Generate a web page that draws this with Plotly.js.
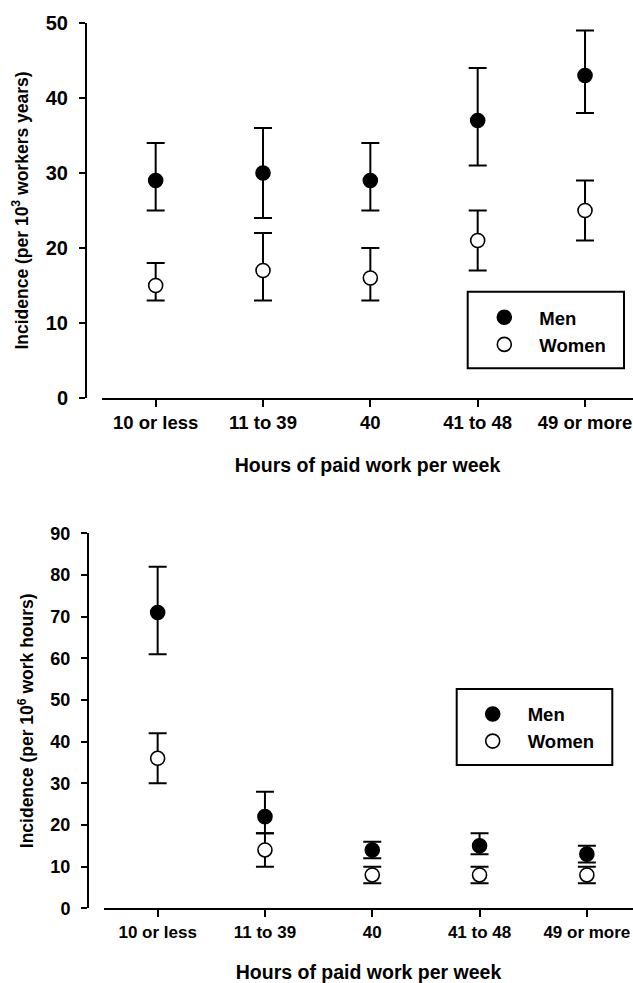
<!DOCTYPE html>
<html>
<head>
<meta charset="utf-8">
<script src="https://cdn.plot.ly/plotly-3.0.1.min.js"></script>
<style>html,body{margin:0;padding:0;background:#fff;}#chart{width:633px;height:983px;}</style>
</head>
<body>
<div id="chart"></div>
<script>
// Categories
const categories = ["10 or less", "11 to 39", "40", "41 to 48", "49 or more"];

// Top panel: incidence per 10^3 worker years
const topMen = [29, 30, 29, 37, 43];
const topMenUpper = [34, 36, 34, 44, 49];
const topMenLower = [25, 24, 25, 31, 38];
const topWomen = [15, 17, 16, 21, 25];
const topWomenUpper = [18, 22, 20, 25, 29];
const topWomenLower = [13, 13, 13, 17, 21];

// Bottom panel: incidence per 10^6 work hours
const botMen = [71, 22, 14, 15, 13];
const botMenUpper = [82, 28, 16, 18, 15];
const botMenLower = [61, 18, 12, 13, 11];
const botWomen = [36, 14, 8, 8, 8];
const botWomenUpper = [42, 18, 10, 10, 10];
const botWomenLower = [30, 10, 6, 6, 6];

const W = 633, H = 983;
const FONT = "Liberation Sans, Arial, Helvetica, sans-serif";

function errs(vals, up, lo) {
  return {
    type: "data",
    array: up.map((u, i) => u - vals[i]),
    arrayminus: vals.map((v, i) => v - lo[i]),
    color: "#000",
    thickness: 2,
    width: 9,
    visible: true
  };
}

function trace(name, vals, up, lo, filled, xa, ya, leg) {
  return {
    type: "scatter", mode: "markers", name: name,
    x: categories, y: vals,
    xaxis: xa, yaxis: ya, legend: leg, showlegend: true,
    cliponaxis: false,
    marker: {
      size: 14,
      color: filled ? "#000" : "#fff",
      line: {color: "#000", width: 1.6}
    },
    error_y: errs(vals, up, lo)
  };
}

const data = [
  trace("Men", topMen, topMenUpper, topMenLower, true, "x", "y", "legend"),
  trace("Women", topWomen, topWomenUpper, topWomenLower, false, "x", "y", "legend"),
  trace("Men", botMen, botMenUpper, botMenLower, true, "x2", "y2", "legend2"),
  trace("Women", botWomen, botWomenUpper, botWomenLower, false, "x2", "y2", "legend2")
];

function py(pix) { return (H - pix) / H; }
function px(pix) { return pix / W; }

const axCommon = {
  showline: true, linecolor: "#000", linewidth: 2,
  ticks: "outside", tickcolor: "#000", tickwidth: 2,
  showgrid: false, zeroline: false, fixedrange: true
};

const layout = {
  width: W, height: H,
  margin: {l: 0, r: 0, t: 0, b: 0},
  paper_bgcolor: "#fff", plot_bgcolor: "rgba(0,0,0,0)",
  font: {family: FONT, color: "#000", weight: "bold"},
  xaxis: Object.assign({}, axCommon, {
    type: "category", domain: [px(102), 1], anchor: "y",
    range: [-0.5, 4.447], ticklen: 7,
    tickfont: {family: FONT, size: 18.5, weight: "bold"},
    title: {text: "Hours of paid work per week", font: {family: FONT, size: 19.5, weight: "bold"}, standoff: 26}
  }),
  yaxis: Object.assign({}, axCommon, {
    domain: [py(398), py(23)], anchor: "free", position: px(86),
    range: [0, 50], dtick: 10, ticklen: 6, ticklabelstandoff: 7,
    tickfont: {family: FONT, size: 20, weight: "bold"},
    title: {text: "Incidence (per 10<sup>3</sup> workers years)", font: {family: FONT, size: 17.5, weight: "bold"}, standoff: 12}
  }),
  xaxis2: Object.assign({}, axCommon, {
    type: "category", domain: [px(104), 1], anchor: "y2",
    range: [-0.5, 4.43], ticklen: 7,
    tickfont: {family: FONT, size: 17, weight: "bold"},
    title: {text: "Hours of paid work per week", font: {family: FONT, size: 19.5, weight: "bold"}, standoff: 33}
  }),
  yaxis2: Object.assign({}, axCommon, {
    domain: [py(908.3), py(533.3)], anchor: "free", position: px(88),
    range: [0, 90], dtick: 10, ticklen: 6, ticklabelstandoff: 7,
    tickfont: {family: FONT, size: 18, weight: "bold"},
    title: {text: "Incidence (per 10<sup>6</sup> work hours)", font: {family: FONT, size: 17.5, weight: "bold"}, standoff: 11}
  }),
  legend: {
    x: px(469.3), y: py(298.8), xanchor: "left", yanchor: "top",
    bgcolor: "rgba(0,0,0,0)", borderwidth: 0, itemwidth: 60,
    font: {family: FONT, size: 18.5, weight: "bold"}
  },
  legend2: {
    x: px(457.7), y: py(695.5), xanchor: "left", yanchor: "top",
    bgcolor: "rgba(0,0,0,0)", borderwidth: 0, itemwidth: 60,
    font: {family: FONT, size: 18.5, weight: "bold"}
  },
  shapes: [
    {type: "rect", xref: "paper", yref: "paper", x0: px(467.7), x1: px(624), y0: py(368.3), y1: py(291.7), line: {color: "#000", width: 2}},
    {type: "rect", xref: "paper", yref: "paper", x0: px(456.7), x1: px(612.3), y0: py(765), y1: py(689), line: {color: "#000", width: 2}}
  ]
};

Plotly.newPlot("chart", data, layout, {staticPlot: true, displayModeBar: false});
</script>
</body>
</html>
